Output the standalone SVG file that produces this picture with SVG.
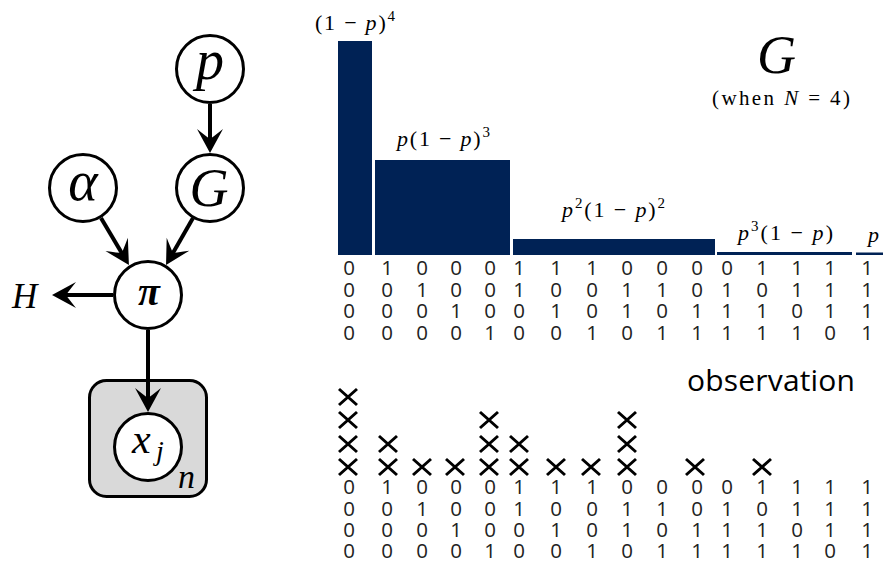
<svg xmlns="http://www.w3.org/2000/svg" width="887" height="563" viewBox="0 0 887 563">
<style>
.node circle{fill:#fff;stroke:#000;stroke-width:3}
.m{font-family:'Liberation Serif','Times New Roman',serif;font-style:italic;fill:#000}
.r{font-family:'Liberation Serif','Times New Roman',serif;fill:#000}
.r tspan.i{font-style:italic}
.conn line{stroke:#000;stroke-width:4}
.bar{fill:#002255}
.d{font-family:'Open Sans','Noto Sans',sans-serif;font-size:20.5px;fill:#222;text-anchor:middle}
.x{stroke:#000;stroke-width:3;fill:none}
</style>
<defs>
<marker id="ah" markerUnits="userSpaceOnUse" markerWidth="40" markerHeight="40" refX="0" refY="0" orient="auto" overflow="visible" viewBox="-20 -20 40 40">
<path d="M11,0 L-13,-13 Q-5,-3 -3,0 Q-5,3 -13,13 Z" fill="#000"/>
</marker>
</defs>

<g id="plate-n">
<rect x="89.5" y="380.5" width="117" height="116" rx="17" fill="#d9d9d9" stroke="#000" stroke-width="3"/>
<text class="m" x="178" y="488" font-size="34">n</text>
</g>

<g id="connectors" class="conn">
<line x1="210" y1="104" x2="210" y2="142" marker-end="url(#ah)"/>
<line x1="101" y1="218" x2="123.3" y2="255.6" marker-end="url(#ah)"/>
<line x1="193" y1="218" x2="171.5" y2="255.5" marker-end="url(#ah)"/>
<line x1="113" y1="295" x2="63" y2="295" marker-end="url(#ah)"/>
<line x1="148" y1="330" x2="148" y2="401" marker-end="url(#ah)"/>
</g>

<g id="node-p" class="node">
<circle cx="210" cy="69" r="33.5"/>
<text class="m" x="210" y="79" font-size="56" text-anchor="middle">p</text>
</g>
<g id="node-G" class="node">
<circle cx="210" cy="188" r="33.5"/>
<text class="m" x="209" y="206" font-size="54" text-anchor="middle">G</text>
</g>
<g id="node-alpha" class="node">
<circle cx="83" cy="188" r="33.5"/>
<text class="m" x="83" y="200" font-size="56" text-anchor="middle">α</text>
</g>
<g id="node-pi" class="node">
<circle cx="148" cy="295" r="33.5"/>
<text class="m" x="149" y="305" font-size="40" font-weight="bold" text-anchor="middle">π</text>
</g>
<g id="node-xj" class="node">
<circle cx="148" cy="447" r="33.5"/>
<text class="m" x="132" y="453" font-size="42">x<tspan x="156" y="460" font-size="28">j</tspan></text>
</g>
<g id="node-H">
<text class="m" x="12" y="308" font-size="35">H</text>
</g>

<g id="chart-G">
<rect class="bar" x="338" y="41" width="34" height="214"/>
<rect class="bar" x="375" y="160" width="135" height="95"/>
<rect class="bar" x="513" y="239" width="202" height="16"/>
<rect class="bar" x="717" y="252" width="135" height="3"/>
<rect class="bar" x="856" y="252.5" width="27" height="2.5"/>
<text class="r" x="315" y="30" font-size="22" textLength="80">(1 − <tspan class="i">p</tspan>)<tspan font-size="15" dy="-9">4</tspan></text>
<text class="r" x="397" y="146" font-size="22" textLength="93"><tspan class="i">p</tspan>(1 − <tspan class="i">p</tspan>)<tspan font-size="15" dy="-9">3</tspan></text>
<text class="r" x="562" y="217" font-size="22" textLength="103"><tspan class="i">p</tspan><tspan font-size="15" dy="-9">2</tspan><tspan dy="9">(1 − </tspan><tspan class="i">p</tspan>)<tspan font-size="15" dy="-9">2</tspan></text>
<text class="r" x="738" y="240" font-size="22" textLength="95"><tspan class="i">p</tspan><tspan font-size="15" dy="-9">3</tspan><tspan dy="9">(1 − </tspan><tspan class="i">p</tspan>)</text>
<text class="m" x="868" y="242" font-size="22">p</text>
<text class="m" x="757" y="73" font-size="54">G</text>
<text class="r" x="712" y="105" font-size="21" textLength="138">(when <tspan class="i">N</tspan> = 4)</text>
</g>

<g id="table-top">
<text class="d" y="275"><tspan x="349">0</tspan><tspan x="387">1</tspan><tspan x="422">0</tspan><tspan x="456">0</tspan><tspan x="490">0</tspan><tspan x="519">1</tspan><tspan x="556">1</tspan><tspan x="592">1</tspan><tspan x="627">0</tspan><tspan x="662">0</tspan><tspan x="697">0</tspan><tspan x="727">0</tspan><tspan x="762">1</tspan><tspan x="797">1</tspan><tspan x="830">1</tspan><tspan x="867">1</tspan></text>
<text class="d" y="297"><tspan x="349">0</tspan><tspan x="387">0</tspan><tspan x="422">1</tspan><tspan x="456">0</tspan><tspan x="490">0</tspan><tspan x="519">1</tspan><tspan x="556">0</tspan><tspan x="592">0</tspan><tspan x="627">1</tspan><tspan x="662">1</tspan><tspan x="697">0</tspan><tspan x="727">1</tspan><tspan x="762">0</tspan><tspan x="797">1</tspan><tspan x="830">1</tspan><tspan x="867">1</tspan></text>
<text class="d" y="318"><tspan x="349">0</tspan><tspan x="387">0</tspan><tspan x="422">0</tspan><tspan x="456">1</tspan><tspan x="490">0</tspan><tspan x="519">0</tspan><tspan x="556">1</tspan><tspan x="592">0</tspan><tspan x="627">1</tspan><tspan x="662">0</tspan><tspan x="697">1</tspan><tspan x="727">1</tspan><tspan x="762">1</tspan><tspan x="797">0</tspan><tspan x="830">1</tspan><tspan x="867">1</tspan></text>
<text class="d" y="340"><tspan x="349">0</tspan><tspan x="387">0</tspan><tspan x="422">0</tspan><tspan x="456">0</tspan><tspan x="490">1</tspan><tspan x="519">0</tspan><tspan x="556">0</tspan><tspan x="592">1</tspan><tspan x="627">0</tspan><tspan x="662">1</tspan><tspan x="697">1</tspan><tspan x="727">1</tspan><tspan x="762">1</tspan><tspan x="797">1</tspan><tspan x="830">0</tspan><tspan x="867">1</tspan></text>
</g>

<g id="observation">
<text x="687" y="391" font-family="'Open Sans','Noto Sans',sans-serif" font-size="30" fill="#000" textLength="168">observation</text>
<g id="crosses" class="x">
<path d="M339,459l18,16m0,-16l-18,16 M339,436l18,16m0,-16l-18,16 M339,412l18,16m0,-16l-18,16 M339,389l18,16m0,-16l-18,16"/>
<path d="M379,459l18,16m0,-16l-18,16 M379,436l18,16m0,-16l-18,16"/>
<path d="M413,459l18,16m0,-16l-18,16"/>
<path d="M446,459l18,16m0,-16l-18,16"/>
<path d="M480,459l18,16m0,-16l-18,16 M480,436l18,16m0,-16l-18,16 M480,412l18,16m0,-16l-18,16"/>
<path d="M510,459l18,16m0,-16l-18,16 M510,436l18,16m0,-16l-18,16"/>
<path d="M547,459l18,16m0,-16l-18,16"/>
<path d="M582,459l18,16m0,-16l-18,16"/>
<path d="M618,459l18,16m0,-16l-18,16 M618,436l18,16m0,-16l-18,16 M618,412l18,16m0,-16l-18,16"/>
<path d="M686,459l18,16m0,-16l-18,16"/>
<path d="M753,459l18,16m0,-16l-18,16"/>
</g>
<text class="d" y="494"><tspan x="349">0</tspan><tspan x="387">1</tspan><tspan x="422">0</tspan><tspan x="456">0</tspan><tspan x="490">0</tspan><tspan x="519">1</tspan><tspan x="556">1</tspan><tspan x="592">1</tspan><tspan x="627">0</tspan><tspan x="662">0</tspan><tspan x="697">0</tspan><tspan x="727">0</tspan><tspan x="762">1</tspan><tspan x="797">1</tspan><tspan x="830">1</tspan><tspan x="867">1</tspan></text>
<text class="d" y="516"><tspan x="349">0</tspan><tspan x="387">0</tspan><tspan x="422">1</tspan><tspan x="456">0</tspan><tspan x="490">0</tspan><tspan x="519">1</tspan><tspan x="556">0</tspan><tspan x="592">0</tspan><tspan x="627">1</tspan><tspan x="662">1</tspan><tspan x="697">0</tspan><tspan x="727">1</tspan><tspan x="762">0</tspan><tspan x="797">1</tspan><tspan x="830">1</tspan><tspan x="867">1</tspan></text>
<text class="d" y="537"><tspan x="349">0</tspan><tspan x="387">0</tspan><tspan x="422">0</tspan><tspan x="456">1</tspan><tspan x="490">0</tspan><tspan x="519">0</tspan><tspan x="556">1</tspan><tspan x="592">0</tspan><tspan x="627">1</tspan><tspan x="662">0</tspan><tspan x="697">1</tspan><tspan x="727">1</tspan><tspan x="762">1</tspan><tspan x="797">0</tspan><tspan x="830">1</tspan><tspan x="867">1</tspan></text>
<text class="d" y="558"><tspan x="349">0</tspan><tspan x="387">0</tspan><tspan x="422">0</tspan><tspan x="456">0</tspan><tspan x="490">1</tspan><tspan x="519">0</tspan><tspan x="556">0</tspan><tspan x="592">1</tspan><tspan x="627">0</tspan><tspan x="662">1</tspan><tspan x="697">1</tspan><tspan x="727">1</tspan><tspan x="762">1</tspan><tspan x="797">1</tspan><tspan x="830">0</tspan><tspan x="867">1</tspan></text>
</g>
</svg>
